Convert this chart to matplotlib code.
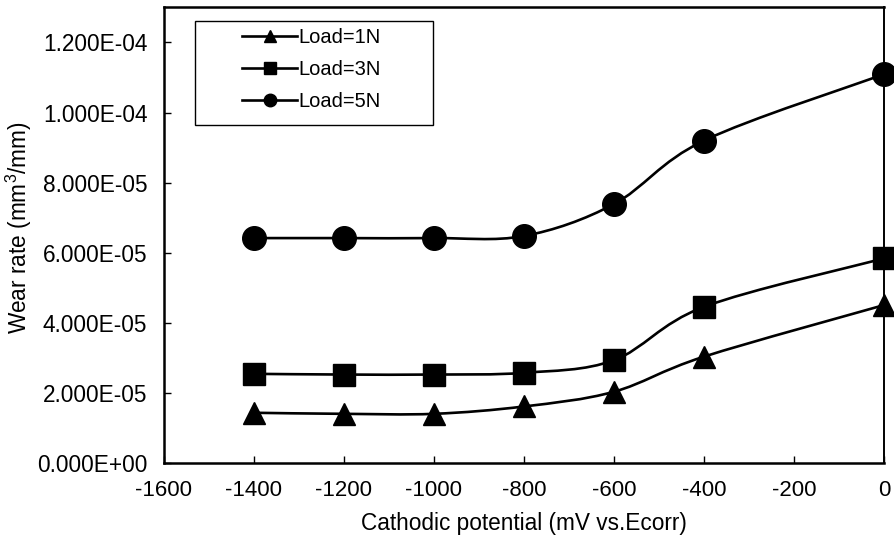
import matplotlib
matplotlib.use("Agg")
import matplotlib.pyplot as plt
import numpy as np
from matplotlib.path import Path
from matplotlib.patches import PathPatch, Rectangle
from matplotlib.lines import Line2D
from matplotlib.ticker import FuncFormatter

plt.rcParams['font.family'] = ['Liberation Sans', 'DejaVu Sans']
plt.rcParams['axes.unicode_minus'] = False
plt.rcParams['mathtext.default'] = 'regular'

# ---- data ----
potential = [-1400, -1200, -1000, -800, -600, -400, 0]
load_1n = [1.44e-5, 1.41e-5, 1.41e-5, 1.62e-5, 2.04e-5, 3.04e-5, 4.51e-5]
load_3n = [2.55e-5, 2.53e-5, 2.53e-5, 2.58e-5, 2.94e-5, 4.46e-5, 5.84e-5]
load_5n = [6.42e-5, 6.42e-5, 6.42e-5, 6.48e-5, 7.39e-5, 9.20e-5, 1.109e-4]
series_labels = ['Load=1N', 'Load=3N', 'Load=5N']
series_markers = ['^', 's', 'o']
x_ticks = [-1600, -1400, -1200, -1000, -800, -600, -400, -200, 0]
y_ticks = [0, 2e-5, 4e-5, 6e-5, 8e-5, 1.0e-4, 1.2e-4]


def smooth_path(xs, ys):
    """Excel-like smoothed line: cubic Bezier segments (Catmull-Rom control points)."""
    pts = np.column_stack([xs, ys]).astype(float)
    n = len(pts)
    verts = [pts[0]]
    codes = [Path.MOVETO]
    for i in range(n - 1):
        p0 = pts[i - 1] if i > 0 else pts[i]
        p1 = pts[i]
        p2 = pts[i + 1]
        p3 = pts[i + 2] if i + 2 < n else pts[i + 1]
        c1 = p1 + (p2 - p0) / 6.0
        c2 = p2 - (p3 - p1) / 6.0
        verts += [c1, c2, p2]
        codes += [Path.CURVE4] * 3
    return Path(verts, codes)


fig = plt.figure(figsize=(8.95, 5.43), dpi=100)
ax = fig.add_axes([0.1832, 0.1468, 0.8045, 0.8398])

for ys, mk, lab in zip([load_1n, load_3n, load_5n], series_markers, series_labels):
    patch = PathPatch(smooth_path(potential, ys), facecolor='none',
                      edgecolor='black', lw=1.9, zorder=3, clip_on=False)
    ax.add_patch(patch)
    ms = 17 if mk == 'o' else 16.5
    ax.plot(potential, ys, linestyle='none', marker=mk, ms=ms, color='black',
            zorder=4, clip_on=False, label=lab)

ax.set_xlim(-1600, 0)
ax.set_ylim(0, 1.3e-4)
ax.set_xticks(x_ticks)
ax.set_xticklabels([str(v) for v in x_ticks])
ax.set_yticks(y_ticks)
ax.yaxis.set_major_formatter(FuncFormatter(lambda v, p: f"{v:.3E}"))

ax.tick_params(axis='both', direction='in', length=5, width=1, colors='black')
ax.tick_params(axis='y', pad=12, labelsize=16.3)
ax.tick_params(axis='x', pad=12, labelsize=16)

for side in ['left', 'bottom', 'top']:
    ax.spines[side].set_linewidth(1.8)
ax.spines['right'].set_linewidth(1.4)

ax.set_xlabel('Cathodic potential (mV vs.Ecorr)', fontsize=16.3, labelpad=8)
ax.set_ylabel('Wear rate (mm$^{3}$/mm)', fontsize=16.3)
ax.yaxis.set_label_coords(-0.1806, 0.516)

# legend box (drawn as a frame) and entries
ax.add_patch(Rectangle((0.043, 0.742), 0.3306, 0.228, transform=ax.transAxes,
                       facecolor='white', edgecolor='black', lw=1.0, zorder=5))
handles = [Line2D([], [], color='black', lw=1.9, marker=m, ms=9) for m in series_markers]
leg = ax.legend(handles, series_labels, loc='upper left',
                bbox_to_anchor=(0.1083, 0.9546), borderaxespad=0, borderpad=0,
                fontsize=14.5, handlelength=2.74, handletextpad=0.05,
                labelspacing=0.65, frameon=False)
leg.set_zorder(6)

fig.savefig('out.png', dpi=100)
